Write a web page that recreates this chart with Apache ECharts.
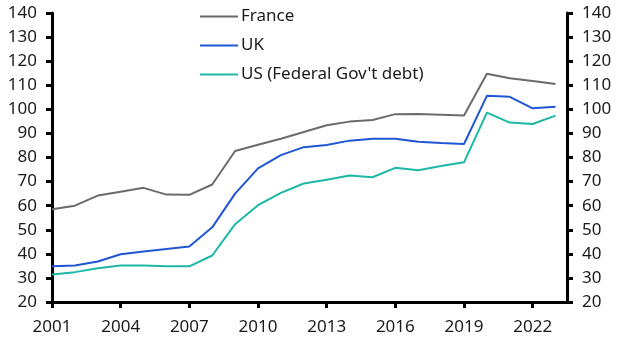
<!DOCTYPE html>
<html>
<head>
<meta charset="utf-8">
<script src="https://cdn.jsdelivr.net/npm/echarts@6/dist/echarts.min.js"></script>
<style>
  html, body { margin: 0; padding: 0; background: #fff; }
  #chart { width: 629px; height: 354px; }
</style>
</head>
<body>
<div id="chart"></div>
<script>
// years and debt, % of GDP
var years = [2001, 2002, 2003, 2004, 2005, 2006, 2007, 2008, 2009, 2010, 2011, 2012,
  2013, 2014, 2015, 2016, 2017, 2018, 2019, 2020, 2021, 2022, 2023];
var france = [58.5, 60.0, 64.2, 65.8, 67.4, 64.6, 64.5, 68.8, 82.7, 85.3, 87.8, 90.6,
  93.4, 94.9, 95.6, 98.0, 98.1, 97.8, 97.4, 114.8, 112.9, 111.8, 110.5];
var uk = [34.8, 35.2, 36.8, 39.8, 41.0, 42.0, 43.0, 51.0, 65.0, 75.5, 81.0, 84.3,
  85.2, 87.0, 87.8, 87.8, 86.5, 86.0, 85.6, 105.6, 105.2, 100.4, 101.1];
var us = [31.4, 32.4, 34.0, 35.2, 35.2, 34.8, 34.8, 39.3, 52.3, 60.2, 65.3, 69.2,
  70.8, 72.5, 71.8, 75.7, 74.7, 76.5, 78.0, 98.6, 94.5, 93.9, 97.4];
var seriesNames = ['France', 'UK', "US (Federal Gov't debt)"];

var myChart = echarts.init(document.getElementById('chart'));

function pairs(vals) {
  return years.map(function (y, i) { return [y, vals[i]]; });
}

var fontFam = 'Noto Sans';
var axisLab = { color: '#1a1a1a', fontSize: 17, fontFamily: fontFam };

var yAxisBase = {
  type: 'value',
  min: 20,
  max: 140,
  interval: 10,
  axisLine: { show: true, lineStyle: { color: '#000', width: 3 } },
  axisTick: { show: true, length: 6, lineStyle: { color: '#000', width: 3 } },
  splitLine: { show: false },
  axisLabel: Object.assign({ margin: 15 }, axisLab)
};

var option = {
  animation: false,
  grid: { left: 52, right: 62, top: 13, bottom: 52 },
  legend: {
    orient: 'vertical',
    left: 195,
    top: 3,
    icon: 'rect',
    itemWidth: 38,
    itemHeight: 2,
    itemGap: 12,
    textStyle: { color: '#1a1a1a', fontSize: 17, fontFamily: fontFam, padding: [0, 0, 0, -2] },
    data: seriesNames
  },
  xAxis: {
    type: 'value',
    min: 2001,
    max: 2023.5,
    interval: 3,
    axisLine: { show: true, lineStyle: { color: '#000', width: 3 } },
    axisTick: { show: true, length: 6, lineStyle: { color: '#000', width: 3 } },
    splitLine: { show: false },
    axisLabel: Object.assign({
      margin: 17,
      showMaxLabel: false,
      formatter: function (v) { return v % 1 === 0 ? String(v) : ''; }
    }, axisLab)
  },
  yAxis: [
    Object.assign({ position: 'left' }, yAxisBase),
    Object.assign({ position: 'right' }, yAxisBase)
  ],
  series: [
    { name: seriesNames[0], type: 'line', data: pairs(france), color: '#6b6b6b' },
    { name: seriesNames[1], type: 'line', data: pairs(uk), color: '#1f56d6' },
    { name: seriesNames[2], type: 'line', data: pairs(us), color: '#1db7a8' }
  ].map(function (s) {
    s.showSymbol = false;
    s.symbol = 'none';
    s.lineStyle = { width: 2 };
    return s;
  })
};

myChart.setOption(option);
</script>
</body>
</html>
